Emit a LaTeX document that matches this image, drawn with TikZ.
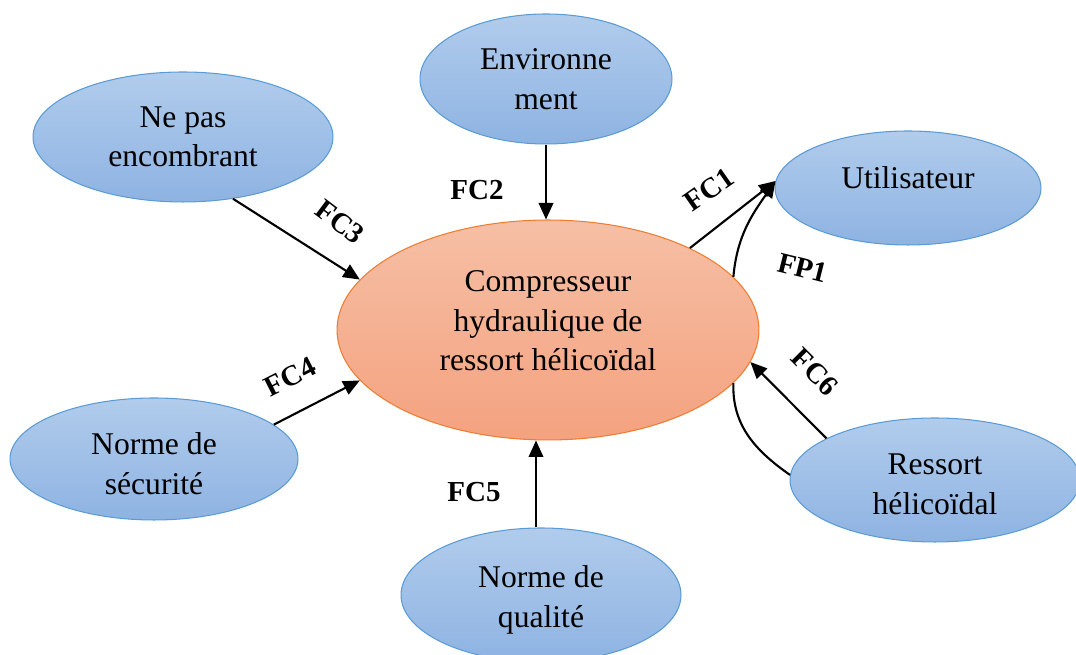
\documentclass[tikz,border=0pt]{standalone}
\usepackage{fontspec}
\setmainfont{Liberation Serif}
\usetikzlibrary{arrows.meta,shapes.geometric}
\definecolor{BlueTop}{HTML}{B1CCEC}
\definecolor{BlueBot}{HTML}{8EB3E2}
\definecolor{BlueLine}{HTML}{5B9BD5}
\definecolor{OrangeTop}{HTML}{F6BFA5}
\definecolor{OrangeBot}{HTML}{F4A27F}
\definecolor{OrangeLine}{HTML}{ED7D31}
\tikzset{
  milieu/.style={ellipse,draw=BlueLine,line width=.6pt,top color=BlueTop,bottom color=BlueBot,inner sep=0pt,align=center,font=\fontsize{18}{22.5}\selectfont},
  produit/.style={ellipse,draw=OrangeLine,line width=.6pt,top color=OrangeTop,bottom color=OrangeBot,inner sep=0pt,align=center,font=\fontsize{18}{22.5}\selectfont},
  fc/.style={-{Triangle[length=3.3mm,width=2.9mm]},line width=1.2pt},
  lien/.style={line width=1.2pt},
  lbl/.style={font=\fontsize{16.5}{19}\selectfont\bfseries},
}
\begin{document}
\begin{tikzpicture}[x=.02cm,y=.02cm]
  \clip (0,0) rectangle (1076,655);
  % elements du milieu exterieur
  \node[produit,minimum width=8.44cm,minimum height=4.4cm,text depth=.36cm] (comp) at (548,325) {Compresseur\\hydraulique de\\ressort hélicoïdal};
  \node[milieu,minimum width=5.04cm,minimum height=2.6cm] (env) at (546,576) {Environne\\ment};
  \node[milieu,minimum width=6cm,minimum height=2.6cm] (neq) at (183,518) {Ne pas\\encombrant};
  \node[milieu,minimum width=5.32cm,minimum height=2.28cm,text depth=.4cm] (util) at (908,467) {Utilisateur};
  \node[milieu,minimum width=5.76cm,minimum height=2.44cm,text height=1.42cm] (sec) at (154,196) {Norme de\\sécurité};
  \node[milieu,minimum width=5.6cm,minimum height=2.68cm,text height=1.42cm] (qual) at (541,60) {Norme de\\qualité};
  \node[milieu,minimum width=5.8cm,minimum height=2.48cm,text height=1.38cm] (res) at (935,175) {Ressort\\hélicoïdal};
  % fonctions
  \draw[fc] (env.south) -- (env.south |- comp.north);
  \draw[fc] (neq.-51) -- (comp.165);
  \draw[fc] (sec.16) -- (comp.195);
  \draw[fc] ([xshift=-.1cm]qual.north) -- ([xshift=-.1cm]qual.north |- comp.south);
  \draw[fc] (comp.30) -- (util.177);
  \draw[fc] (comp.16) to[out=85,in=235] (util.177);
  \draw[lien] (comp.-16) to[out=-92,in=145] (res.178);
  \draw[fc] (res.159) -- (comp.-9);
  % etiquettes
  \node[lbl] (l2) at (477,465) {FC2};
  \node[lbl,rotate=-37] (l3) at (340,433) {FC3};
  \node[lbl,rotate=27] (l4) at (290,278) {FC4};
  \node[lbl] (l5) at (474,163) {FC5};
  \node[lbl,rotate=35] (l1) at (709,465) {FC1};
  \node[lbl,rotate=-14] (lp1) at (803,387) {FP1};
  \node[lbl,rotate=-45] (l6) at (815,283) {FC6};
\end{tikzpicture}
\end{document}
